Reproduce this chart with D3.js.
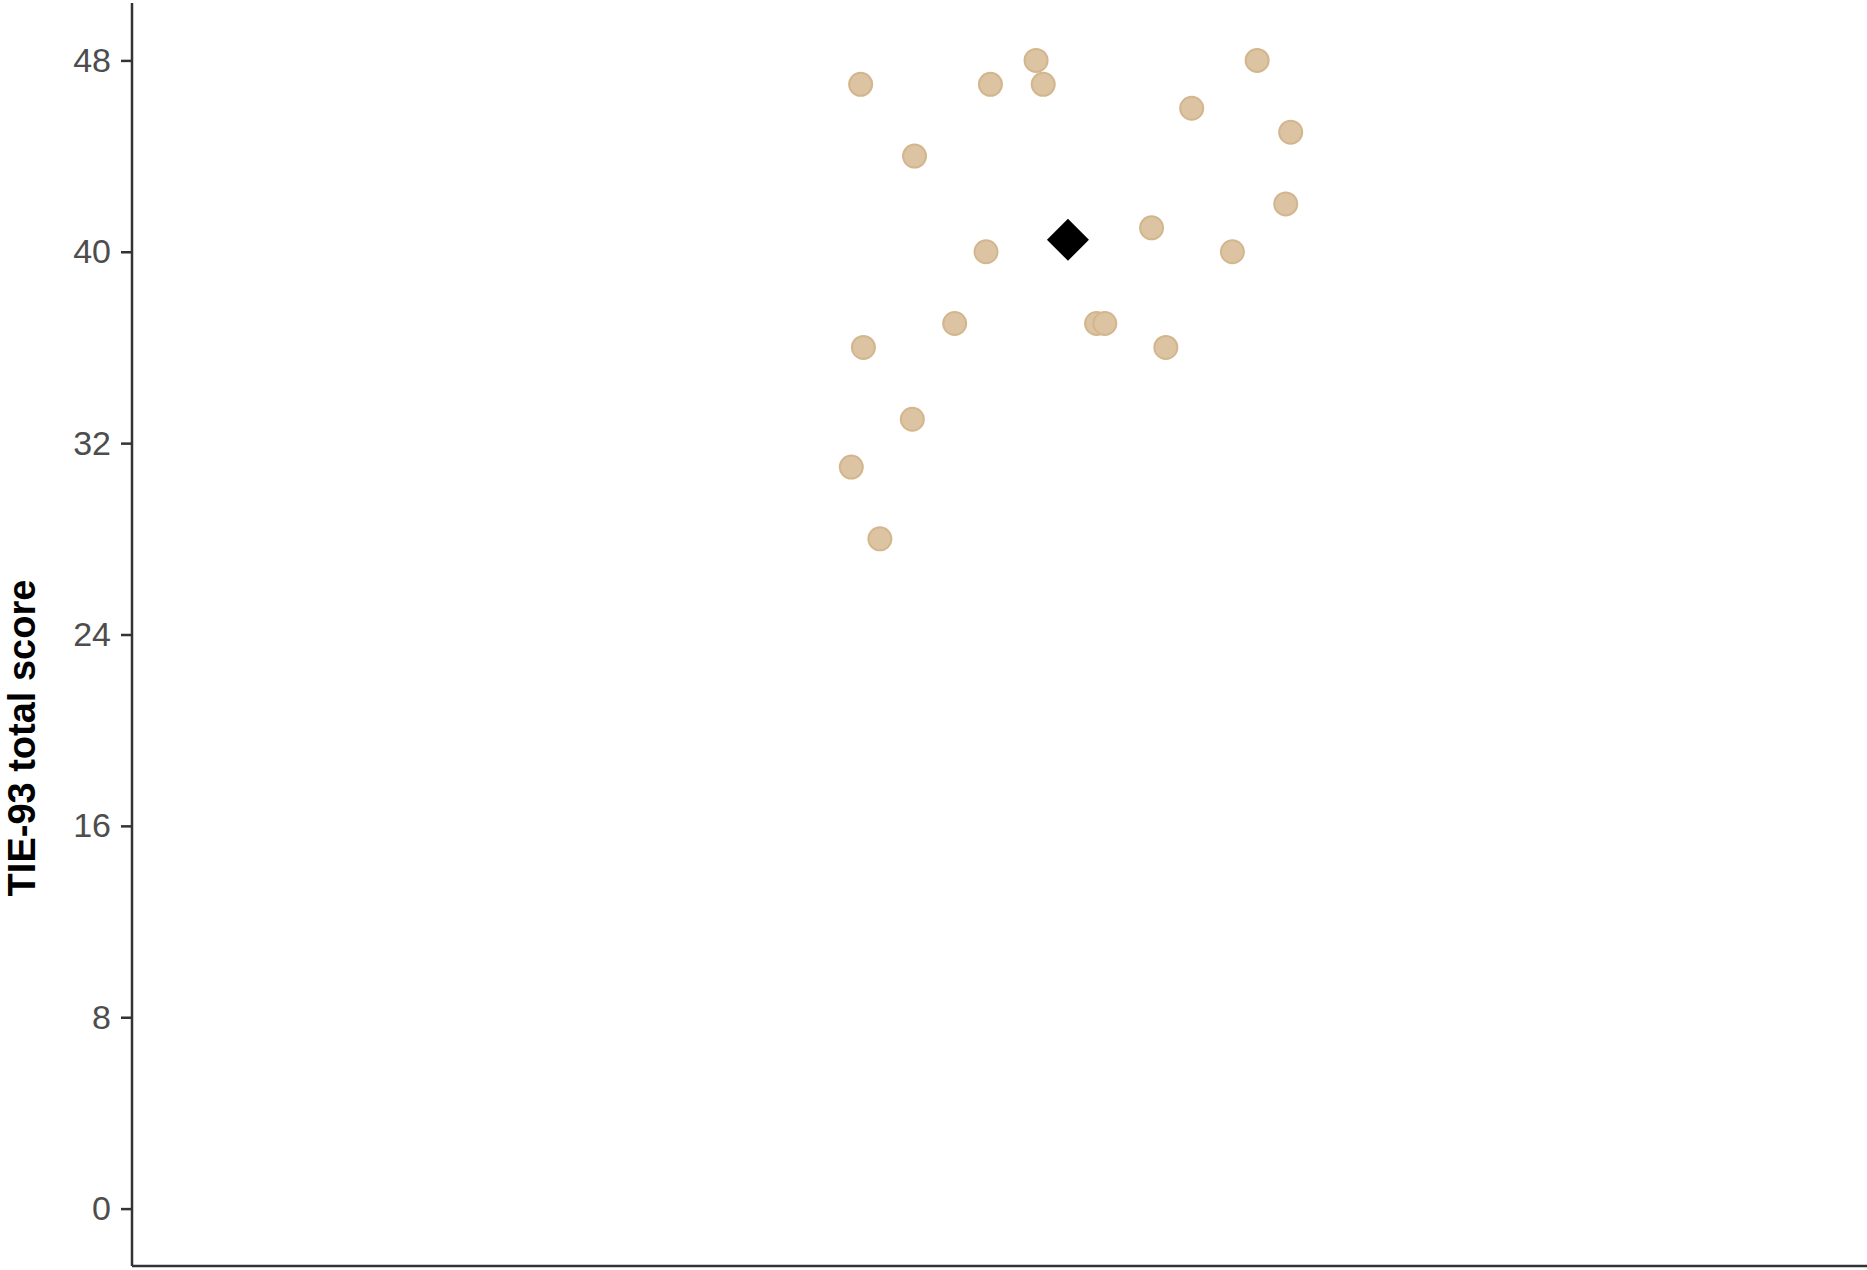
<!DOCTYPE html>
<html>
<head>
<meta charset="utf-8">
<script src="https://cdn.jsdelivr.net/npm/d3@7"></script>
<style>
  html, body { margin: 0; padding: 0; background: #fff; }
  svg { display: block; }
</style>
</head>
<body>
<div id="chart"></div>
<script>
// Scores per participant (jittered x position in category units, y = score)
const jitterX = [0.623, 0.859, 0.942, 0.955, 1.344, 1.225, 1.405, 0.721, 1.396, 1.152,
                 0.851, 1.299, 0.794, 1.052, 1.067, 0.628, 1.178, 0.717, 0.606, 0.658];
const scores  = [47, 47, 48, 47, 48, 46, 45, 44, 42, 41,
                 40, 40, 37, 37, 37, 36, 36, 33, 31, 28];
const groupCenter = [1];
const yTicks = [0, 8, 16, 24, 32, 40, 48];
const yTitle = 'TIE-93 total score';

const width = 1867, height = 1270;
const plot = { left: 132, top: 3, right: 1867, bottom: 1266 };

const svg = d3.select('#chart')
  .append('svg')
  .attr('width', width)
  .attr('height', height);

// Scales (ggplot-style 5% expansion around 0..48)
const y = d3.scaleLinear()
  .domain([-2.4, 50.4])
  .range([plot.bottom, plot.top]);

const x = d3.scaleLinear()
  .domain([-0.702, 2.453])
  .range([plot.left, plot.right]);

// Points
const points = jitterX.map((jx, i) => ({ x: jx, y: scores[i] }));

svg.append('g')
  .selectAll('circle')
  .data(points)
  .join('circle')
  .attr('cx', d => x(d.x))
  .attr('cy', d => y(d.y))
  .attr('r', 11.5)
  .attr('fill', '#dcc4a3')
  .attr('stroke', '#d3b68e')
  .attr('stroke-width', 2);

// Mean marker
const meanScore = d3.mean(scores);
svg.append('path')
  .attr('d', d3.symbol(d3.symbolSquare, 2 * 21 * 21)())
  .attr('transform', `translate(${x(groupCenter[0])},${y(meanScore)}) rotate(45)`)
  .attr('fill', '#000');

// Y axis
const yAxis = d3.axisLeft(y)
  .tickValues(yTicks)
  .tickSize(11)
  .tickPadding(10);

svg.append('g')
  .attr('transform', `translate(${plot.left},0)`)
  .call(yAxis)
  .call(g => g.select('.domain').remove())
  .call(g => g.selectAll('.tick line').attr('stroke', '#333').attr('stroke-width', 2.5))
  .call(g => g.selectAll('.tick text')
    .attr('fill', '#4d4d4d')
    .attr('font-size', '34px')
    .attr('font-family', '"Liberation Sans", Arial, sans-serif'));

// Axis lines
svg.append('line')
  .attr('x1', plot.left).attr('x2', plot.left)
  .attr('y1', plot.top).attr('y2', plot.bottom)
  .attr('stroke', '#333').attr('stroke-width', 2.5);

svg.append('line')
  .attr('x1', plot.left).attr('x2', plot.right)
  .attr('y1', plot.bottom).attr('y2', plot.bottom)
  .attr('stroke', '#333').attr('stroke-width', 2.5);

// Y axis title
svg.append('text')
  .attr('transform', `translate(35,738) rotate(-90)`)
  .attr('text-anchor', 'middle')
  .attr('font-family', '"Liberation Sans", Arial, sans-serif')
  .attr('font-weight', 'bold')
  .attr('font-size', '38px')
  .attr('fill', '#000')
  .text(yTitle);
</script>
</body>
</html>
